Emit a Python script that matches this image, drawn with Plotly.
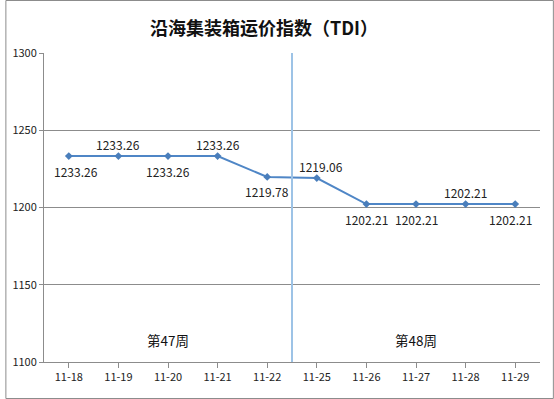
import plotly.graph_objects as go

dates = ["11-18", "11-19", "11-20", "11-21", "11-22", "11-25", "11-26", "11-27", "11-28", "11-29"]
values = [1233.26, 1233.26, 1233.26, 1233.26, 1219.78, 1219.06, 1202.21, 1202.21, 1202.21, 1202.21]
label_above = [False, True, False, True, False, True, False, False, True, False]
label_xshift = [7, 0, 0, 0, 0, 4, 0, 0, 0, -5]
week_labels = ["第47周", "第48周"]
week_centers = [2, 7]
y_ticks = [1100, 1150, 1200, 1250, 1300]

W, H = 554, 399
L, R, T, B = 39, 14, 53, 37
pw, ph = W - L - R, H - T - B
FONT = "Noto Sans CJK SC"

fig = go.Figure()
fig.add_trace(go.Scatter(
    x=list(range(len(dates))), y=values, mode="lines+markers",
    line=dict(color="#4F86C6", width=2),
    marker=dict(symbol="diamond", size=6, color="#4A7EBB"),
    showlegend=False,
))
for i, (v, up, xs) in enumerate(zip(values, label_above, label_xshift)):
    fig.add_annotation(x=i, y=v, xref="x", yref="y", text=f"{v:.2f}", showarrow=False,
                       yshift=12 if up else -15, xshift=xs,
                       font=dict(family=FONT, size=12, color="#222"))

fig.add_shape(type="line", xref="x", yref="y", x0=4.5, x1=4.5, y0=1100, y1=1300,
              line=dict(color="#9DC3E6", width=2), layer="above")
for lab, c in zip(week_labels, week_centers):
    fig.add_annotation(x=c, y=1114, xref="x", yref="y", text=lab, showarrow=False,
                       font=dict(family=FONT, size=13.5, color="#111"))
# outer border
fig.add_shape(type="rect", xref="paper", yref="paper",
              x0=-(L - 0.5) / pw, x1=(W - L - 0.5) / pw,
              y0=-(B - 0.5) / ph, y1=(H - B - 0.5) / ph,
              line=dict(color="#8c8c8c", width=1))

fig.update_layout(
    width=W, height=H, margin=dict(l=L, r=R, t=T, b=B),
    paper_bgcolor="white", plot_bgcolor="white",
    title=dict(text="<b>沿海集装箱运价指数（TDI）</b>", x=264 / W, xanchor="center",
               y=1 - 29 / H, yanchor="middle",
               font=dict(family=FONT, size=18, color="#111")),
    xaxis=dict(range=[-0.5, 9.5], tickmode="array", tickvals=list(range(len(dates))),
               ticktext=dates, tickson="boundaries", ticks="outside", ticklen=5,
               tickcolor="#8c8c8c", showline=True, linecolor="#8c8c8c", linewidth=1,
               showgrid=False, zeroline=False,
               tickfont=dict(family=FONT, size=11, color="#222")),
    yaxis=dict(range=[1100, 1300], tickvals=y_ticks, ticks="outside", ticklen=4,
               tickcolor="#8c8c8c", showline=True, linecolor="#8c8c8c", linewidth=1,
               showgrid=True, gridcolor="#8c8c8c", gridwidth=1, zeroline=False,
               tickfont=dict(family=FONT, size=11, color="#222")),
)

fig.write_html("out.html")
